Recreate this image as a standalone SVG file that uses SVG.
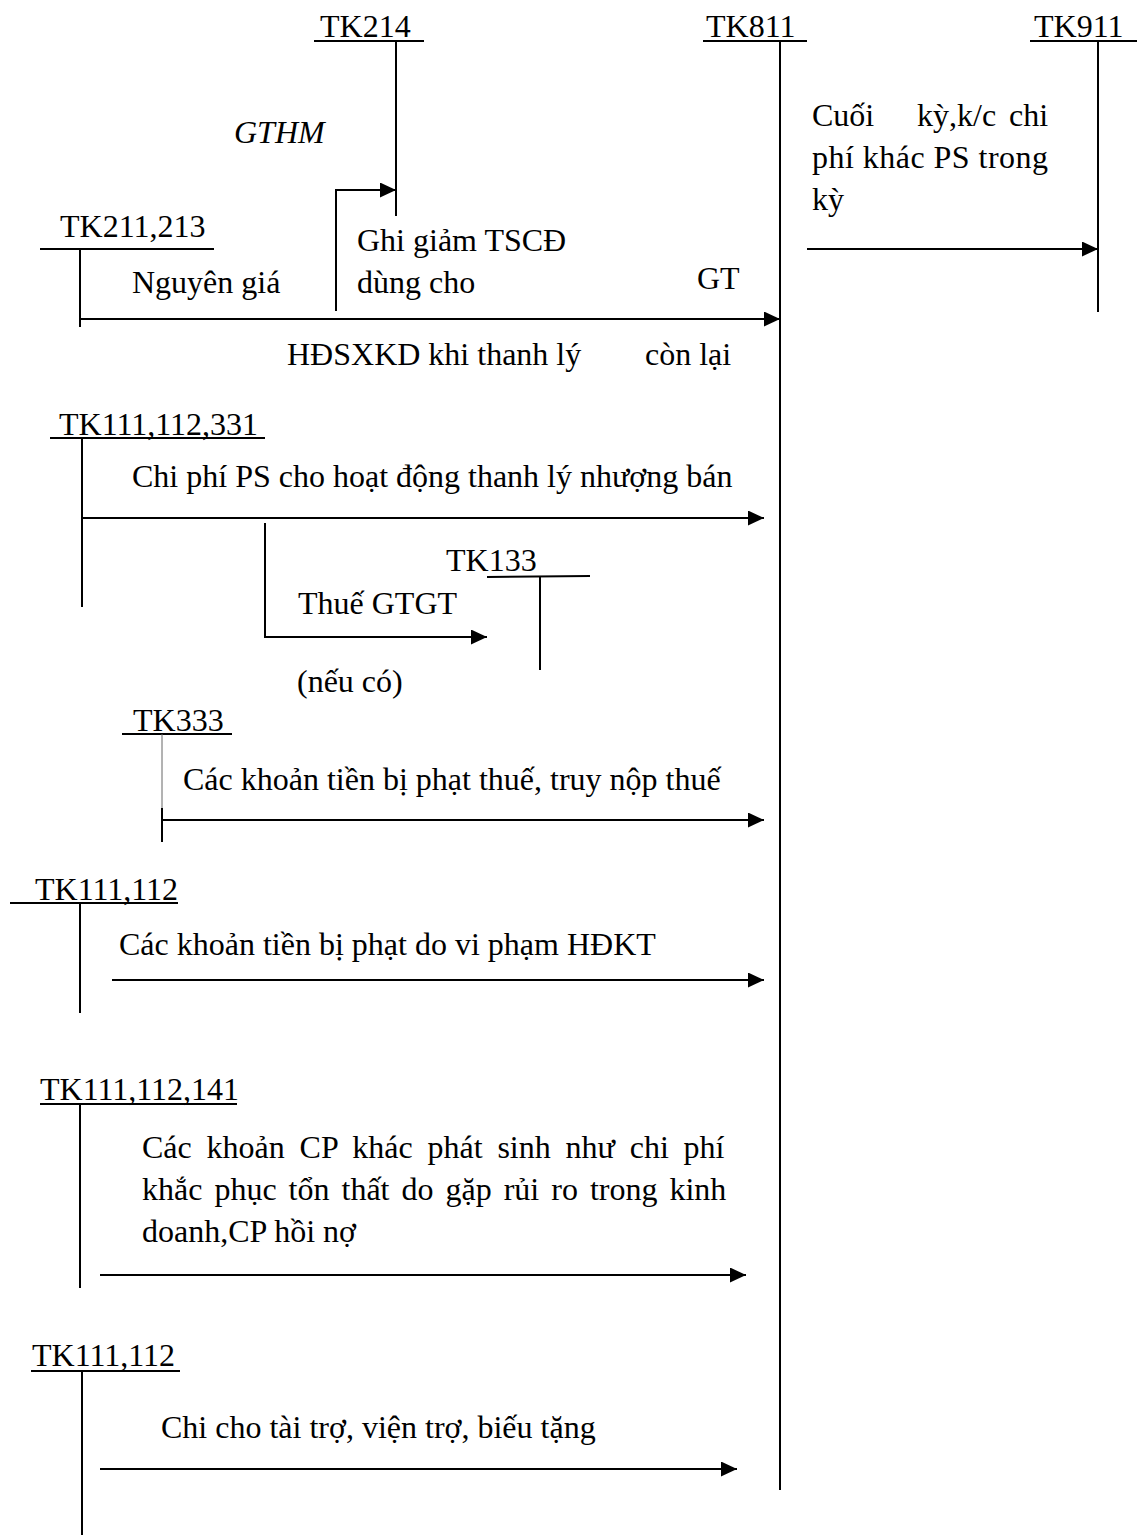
<svg xmlns="http://www.w3.org/2000/svg" width="1137" height="1535" viewBox="0 0 1137 1535">
  <style>
    text { font-family: "Liberation Serif", "Times New Roman", serif; font-size: 32px; fill: #000; }
    .it { font-style: italic; }
    .ln { stroke: #000; stroke-width: 2; fill: none; }
    .thin { stroke: #666; stroke-width: 1; fill: none; }
  </style>
  <defs>
    <marker id="arrow" markerUnits="userSpaceOnUse" markerWidth="16" markerHeight="15" refX="16" refY="7.5" orient="auto">
      <path d="M0,0 L16,7.5 L0,15 Z" fill="#000"/>
    </marker>
  </defs>

  <rect width="1137" height="1535" fill="#fff"/>

  <!-- T-accounts: title, underline, vertical stem -->
  <g id="tk214">
    <text x="320" y="37">TK214</text>
    <line class="ln" x1="314" y1="41" x2="424" y2="41"/>
    <line class="ln" x1="396" y1="41" x2="396" y2="216"/>
  </g>
  <g id="tk811">
    <text x="706" y="37">TK811</text>
    <line class="ln" x1="703" y1="41" x2="807" y2="41"/>
    <line class="ln" x1="780" y1="41" x2="780" y2="1490"/>
  </g>
  <g id="tk911">
    <text x="1034" y="37">TK911</text>
    <line class="ln" x1="1030" y1="41" x2="1137" y2="41"/>
    <line class="ln" x1="1098" y1="41" x2="1098" y2="312"/>
  </g>
  <g id="tk211-213">
    <text x="60" y="237">TK211,213</text>
    <line class="ln" x1="40" y1="249" x2="214" y2="249"/>
    <line class="ln" x1="80" y1="249" x2="80" y2="327"/>
  </g>
  <g id="tk111-112-331">
    <text x="59" y="435">TK111,112,331</text>
    <line class="ln" x1="50" y1="438" x2="265" y2="438"/>
    <line class="ln" x1="82" y1="438" x2="82" y2="607"/>
  </g>
  <g id="tk133">
    <text x="446" y="571">TK133</text>
    <line class="ln" x1="487" y1="577" x2="590" y2="576"/>
    <line class="ln" x1="540" y1="577" x2="540" y2="670"/>
  </g>
  <g id="tk333">
    <text x="133" y="731">TK333</text>
    <line class="ln" x1="122" y1="734" x2="232" y2="734"/>
    <line class="thin" x1="162" y1="734" x2="162" y2="808"/>
    <line class="ln" x1="162" y1="808" x2="162" y2="842"/>
  </g>
  <g id="tk111-112-a">
    <text x="35" y="900">TK111,112</text>
    <line class="ln" x1="10" y1="903" x2="178" y2="903"/>
    <line class="ln" x1="80" y1="903" x2="80" y2="1013"/>
  </g>
  <g id="tk111-112-141">
    <text x="40" y="1100">TK111,112,141</text>
    <line class="ln" x1="40" y1="1104" x2="237" y2="1104"/>
    <line class="ln" x1="80" y1="1104" x2="80" y2="1288"/>
  </g>
  <g id="tk111-112-b">
    <text x="32" y="1366">TK111,112</text>
    <line class="ln" x1="31" y1="1371" x2="180" y2="1371"/>
    <line class="ln" x1="82" y1="1371" x2="82" y2="1535"/>
  </g>

  <!-- Entries between accounts -->
  <g id="connectors">
    <polyline class="ln" points="336,311 336,190 396,190" marker-end="url(#arrow)"/>
    <line class="ln" x1="80" y1="319" x2="780" y2="319" marker-end="url(#arrow)"/>
    <line class="ln" x1="807" y1="249" x2="1098" y2="249" marker-end="url(#arrow)"/>
    <line class="ln" x1="82" y1="518" x2="764" y2="518" marker-end="url(#arrow)"/>
    <polyline class="ln" points="265,523 265,637 487,637" marker-end="url(#arrow)"/>
    <line class="ln" x1="162" y1="820" x2="764" y2="820" marker-end="url(#arrow)"/>
    <line class="ln" x1="112" y1="980" x2="764" y2="980" marker-end="url(#arrow)"/>
    <line class="ln" x1="100" y1="1275" x2="746" y2="1275" marker-end="url(#arrow)"/>
    <line class="ln" x1="100" y1="1469" x2="737" y2="1469" marker-end="url(#arrow)"/>
  </g>

  <!-- Entry descriptions -->
  <g id="labels">
    <text class="it" x="234" y="143">GTHM</text>
    <text x="357" y="251">Ghi giảm TSCĐ</text>
    <text x="357" y="293">dùng cho</text>
    <text x="132" y="293">Nguyên giá</text>
    <text x="697" y="289">GT</text>
    <text x="287" y="365">HĐSXKD khi thanh lý</text>
    <text x="645" y="365">còn lại</text>

    <text x="812" y="126">Cuối</text>
    <text x="917" y="126">kỳ,k/c</text>
    <text x="1009" y="126">chi</text>
    <text x="812" y="168" textLength="236" lengthAdjust="spacing">phí khác PS trong</text>
    <text x="812" y="210">kỳ</text>

    <text x="132" y="487">Chi phí PS cho hoạt động thanh lý nhượng bán</text>
    <text x="298" y="614">Thuế GTGT</text>
    <text x="297" y="692">(nếu có)</text>

    <text x="183" y="790">Các khoản tiền bị phạt thuế, truy nộp thuế</text>
    <text x="119" y="955">Các khoản tiền bị phạt do vi phạm HĐKT</text>

    <text x="142" y="1158" word-spacing="6.8">Các khoản CP khác phát sinh như chi phí</text>
    <text x="142" y="1200" word-spacing="4">khắc phục tổn thất do gặp rủi ro trong kinh</text>
    <text x="142" y="1242">doanh,CP hồi nợ</text>

    <text x="161" y="1438">Chi cho tài trợ, viện trợ, biếu tặng</text>
  </g>
</svg>
